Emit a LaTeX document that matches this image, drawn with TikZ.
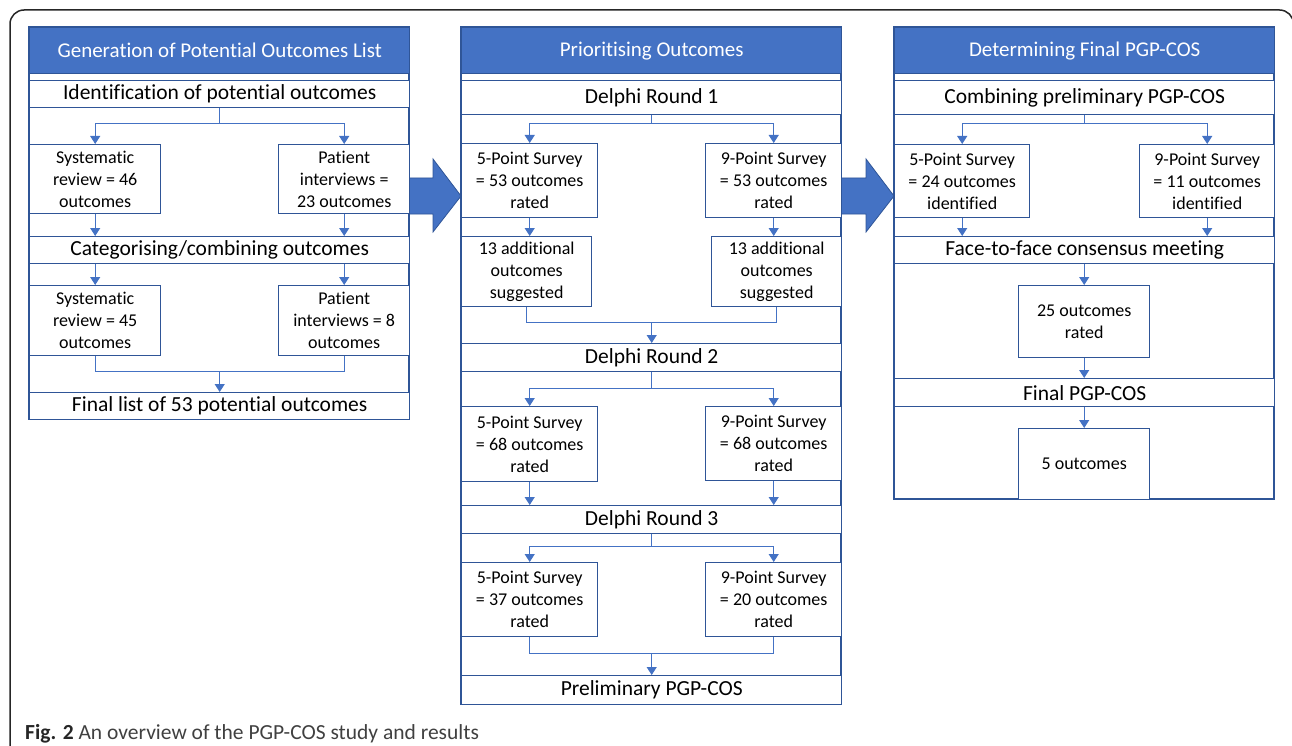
\documentclass[tikz,border=0pt]{standalone}
\usepackage{fontspec}
\setmainfont[Ligatures={NoCommon,NoRare,NoContextual},RawFeature={-liga;-clig;-dlig;-calt}]{Carlito}
\usetikzlibrary{arrows.meta}

\definecolor{headblue}{RGB}{68,114,196}
\definecolor{frameblue}{RGB}{47,85,151}
\definecolor{lineblue}{RGB}{68,114,196}
\definecolor{captgray}{RGB}{64,64,64}

\begin{document}
\begin{tikzpicture}[x=1pt,y=-1pt,
    panel/.style={draw=frameblue,line width=1.4pt},
    header/.style={fill=headblue,draw=frameblue,line width=1.4pt,text=white,
      font=\fontsize{21}{24}\selectfont,inner sep=0pt,anchor=north west},
    stage/.style={draw=frameblue,fill=white,line width=1.4pt,
      font=\fontsize{21.5}{24}\selectfont,inner sep=0pt,anchor=north west},
    info/.style={draw=frameblue,fill=white,line width=1.4pt,align=center,
      font=\fontsize{18}{22}\selectfont,inner sep=0pt,anchor=north west},
    link/.style={draw=lineblue,line width=1.1pt},
    arr/.style={link,-{Triangle[length=8pt,width=10pt]}},
    bigarrow/.style={fill=headblue,draw=frameblue,line width=0.8pt}]

  \useasboundingbox (0,0) rectangle (1292,746);

  % Rahmen
  \draw[line width=1.5pt,draw=black!85,rounded corners=14pt] (10,10) rectangle (1293.5,790);

  % Blockpfeile
  \foreach \xa/\xb in {409/461,841/894} {
      \filldraw[bigarrow] (\xa,178) -- (\xb-28,178) -- (\xb-28,159) -- (\xb,196)
        -- (\xb-28,232) -- (\xb-28,214) -- (\xa,214) -- cycle;
    }

  % Spalten
  \draw[panel] (29,27) rectangle (409,419);
  \draw[panel] (461,27) rectangle (841,704);
  \draw[panel] (894,27) rectangle (1274,499);

  % Spalte 1
  \node[header,minimum width=380,minimum height=46] (hgen) at (29,27) {Generation of Potential Outcomes List};
  \node[stage,minimum width=380,minimum height=27] (ident) at (29,80) {Identification of potential outcomes};
  \node[info,minimum width=131,minimum height=69] (sysa) at (29,144) {Systematic\\review = 46\\outcomes};
  \node[info,minimum width=131,minimum height=69] (pata) at (278,144) {Patient\\interviews =\\23 outcomes};
  \node[stage,minimum width=380,minimum height=27] (categ) at (29,236) {Categorising/combining outcomes};
  \node[info,minimum width=131,minimum height=70] (sysb) at (29,285) {Systematic\\review = 45\\outcomes};
  \node[info,minimum width=131,minimum height=70] (patb) at (278,285) {Patient\\interviews = 8\\outcomes};
  \node[stage,minimum width=380,minimum height=27] (finlist) at (29,392) {Final list of 53 potential outcomes};

  \draw[arr] (ident.south) -- ++(0,15) -| (sysa.north);
  \draw[arr] (ident.south) -- ++(0,15) -| (pata.north);
  \draw[arr] (sysa.south) -- (sysa.south |- categ.north);
  \draw[arr] (pata.south) -- (pata.south |- categ.north);
  \draw[arr] (categ.south -| sysb.north) -- (sysb.north);
  \draw[arr] (categ.south -| patb.north) -- (patb.north);
  \draw[link] (sysb.south) -- ++(0,15) coordinate (j1) -| (patb.south);
  \draw[arr] (j1 -| finlist.north) -- (finlist.north);

  % Spalte 2
  \node[header,minimum width=380,minimum height=46] (hprio) at (461,27) {Prioritising Outcomes};
  \node[stage,minimum width=380,minimum height=34] (dela) at (461,80) {Delphi Round 1};
  \node[info,minimum width=136,minimum height=74] (fivea) at (461,143) {5-Point Survey\\= 53 outcomes\\rated};
  \node[info,minimum width=136,minimum height=74] (ninea) at (705,143) {9-Point Survey\\= 53 outcomes\\rated};
  \node[info,minimum width=130,minimum height=70] (addl) at (461,236) {13 additional\\outcomes\\suggested};
  \node[info,minimum width=130,minimum height=70] (addr) at (711,236) {13 additional\\outcomes\\suggested};
  \node[stage,minimum width=380,minimum height=28] (delb) at (461,343) {Delphi Round 2};
  \node[info,minimum width=136,minimum height=75] (fiveb) at (461,406) {5-Point Survey\\= 68 outcomes\\rated};
  \node[info,minimum width=136,minimum height=74] (nineb) at (705,406) {9-Point Survey\\= 68 outcomes\\rated};
  \node[stage,minimum width=380,minimum height=28] (delc) at (461,505) {Delphi Round 3};
  \node[info,minimum width=136,minimum height=74] (fivec) at (461,562) {5-Point Survey\\= 37 outcomes\\rated};
  \node[info,minimum width=136,minimum height=74] (ninec) at (705,562) {9-Point Survey\\= 20 outcomes\\rated};
  \node[stage,minimum width=380,minimum height=29] (prelim) at (461,675) {Preliminary PGP-COS};

  \draw[arr] (dela.south) -- ++(0,8) -| (fivea.north);
  \draw[arr] (dela.south) -- ++(0,8) -| (ninea.north);
  \draw[arr] (fivea.south) -- (fivea.south |- addl.north);
  \draw[arr] (ninea.south) -- (ninea.south |- addr.north);
  \draw[link] (addl.south) -- ++(0,15) coordinate (j2) -| (addr.south);
  \draw[arr] (j2 -| delb.north) -- (delb.north);
  \draw[arr] (delb.south) -- ++(0,16) -| (fiveb.north);
  \draw[arr] (delb.south) -- ++(0,16) -| (nineb.north);
  \draw[arr] (fiveb.south) -- (fiveb.south |- delc.north);
  \draw[arr] (nineb.south) -- (nineb.south |- delc.north);
  \draw[arr] (delc.south) -- ++(0,12) -| (fivec.north);
  \draw[arr] (delc.south) -- ++(0,12) -| (ninec.north);
  \draw[link] (fivec.south) -- ++(0,16) coordinate (j3) -| (ninec.south);
  \draw[arr] (j3 -| prelim.north) -- (prelim.north);

  % Spalte 3
  \node[header,minimum width=380,minimum height=46] (hfin) at (894,27) {Determining Final PGP-COS};
  \node[stage,minimum width=380,minimum height=34] (comb) at (894,80) {Combining preliminary PGP-COS};
  \node[info,minimum width=135,minimum height=73] (fived) at (894,144) {5-Point Survey\\= 24 outcomes\\identified};
  \node[info,minimum width=135,minimum height=73] (nined) at (1139,144) {9-Point Survey\\= 11 outcomes\\identified};
  \node[stage,minimum width=380,minimum height=27] (face) at (894,236) {Face-to-face consensus meeting};
  \node[info,minimum width=131,minimum height=72] (rated) at (1018,285) {25 outcomes\\rated};
  \node[stage,minimum width=380,minimum height=28] (fincos) at (894,378) {Final PGP-COS};
  \node[info,minimum width=131,minimum height=71] (five) at (1018,428) {5 outcomes};

  \draw[arr] (comb.south) -- ++(0,8) -| (fived.north);
  \draw[arr] (comb.south) -- ++(0,8) -| (nined.north);
  \draw[arr] (fived.south) -- (fived.south |- face.north);
  \draw[arr] (nined.south) -- (nined.south |- face.north);
  \draw[arr] (rated.north |- face.south) -- (rated.north);
  \draw[arr] (rated.south) -- (rated.south |- fincos.north);
  \draw[arr] (five.north |- fincos.south) -- (five.north);

  % Bildunterschrift
  \node[anchor=base west,inner sep=0pt,text=captgray,font=\fontsize{21.5}{24}\selectfont] (cap) at (25,739)
    {\textbf{\color{black!85}Fig. 2} An overview of the PGP-COS study and results};
\end{tikzpicture}
\end{document}
